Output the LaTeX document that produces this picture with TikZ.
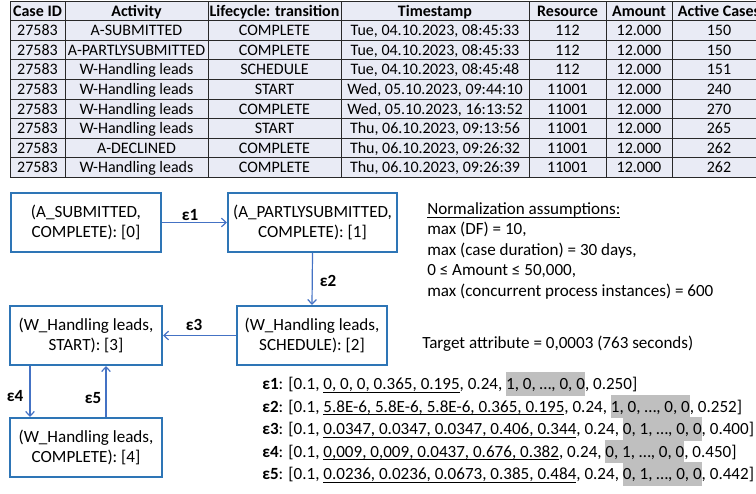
\documentclass[tikz,border=0pt]{standalone}
\usepackage{fontspec}
\setmainfont{Carlito}
\usetikzlibrary{arrows.meta,calc}

\definecolor{boxblue}{RGB}{46,117,182}
\definecolor{arrowblue}{RGB}{68,114,196}
\definecolor{cellfill}{RGB}{233,235,245}
\definecolor{hlgray}{RGB}{191,191,191}
\definecolor{gridgray}{RGB}{40,40,40}

% underlined and highlighted pieces of text
\newcommand\ulw[1]{\setbox0\hbox{#1}\rlap{\rule[-2.2pt]{\wd0}{0.6pt}}\box0}
\newcommand\hlw[1]{\setbox0\hbox{#1}\rlap{\color{hlgray}\rule[-4.8pt]{\wd0}{17.6pt}}\box0}

% geometry of the event table
\def\rowh{19.6}
\def\tabtop{1}

% one row of the event table: row index, then the seven cells
\newcommand\tabrow[8]{%
  \pgfmathsetmacro\ry{\tabtop+\rowh*(#1+0.5)+5.2}%
  \node[cell] (r#1c1) at (37.5,\ry) {#2};
  \node[cell] (r#1c2) at (136.5,\ry) {#3};
  \node[cell] (r#1c3) at (274.5,\ry) {#4};
  \node[cell] (r#1c4) at (435,\ry) {#5};
  \node[cell] (r#1c5) at (567.5,\ry) {#6};
  \node[cell] (r#1c6) at (639,\ry) {#7};
  \node[cell] (r#1c7) at (719,\ry) {#8};
}

\begin{document}
\begin{tikzpicture}[x=0.75pt,y=-0.75pt,
  cell/.style={anchor=base,inner sep=0pt,font=\fontsize{12}{14}\selectfont},
  gridline/.style={draw=gridgray,line width=0.6pt},
  procbox/.style={draw=boxblue,line width=1.5pt,align=center,inner sep=0pt,
    font=\fontsize{12.8}{15}\selectfont,minimum height=59*0.75pt},
  arr/.style={draw=arrowblue,line width=0.9pt,-{Straight Barb[length=3.5pt,width=6.5pt]}},
  elabel/.style={font=\bfseries\fontsize{12.8}{15}\selectfont,inner sep=0pt},
  plain/.style={anchor=base west,inner sep=0pt,font=\fontsize{12.8}{15}\selectfont}]
\useasboundingbox (0,0) rectangle (756,493);

% ---- event table ----
\pgfmathsetmacro\tabbot{\tabtop+9*\rowh}
\fill[cellfill] (10,\tabtop) rectangle (775,\tabbot);
\foreach \i in {0,...,9}
  \draw[gridline] (10,{\tabtop+\rowh*\i}) -- (775,{\tabtop+\rowh*\i});
\foreach \xx in {10,65,208,341,529,606,672,775}
  \draw[gridline] (\xx,\tabtop) -- (\xx,\tabbot);

\tabrow{0}{\textbf{Case ID}}{\textbf{Activity}}{\textbf{Lifecycle: transition}}{\textbf{Timestamp}}{\textbf{Resource}}{\textbf{Amount}}{\textbf{Active Cases}}
\tabrow{1}{27583}{A-SUBMITTED}{COMPLETE}{Tue, 04.10.2023, 08:45:33}{112}{12.000}{150}
\tabrow{2}{27583}{A-PARTLYSUBMITTED}{COMPLETE}{Tue, 04.10.2023, 08:45:33}{112}{12.000}{150}
\tabrow{3}{27583}{W-Handling leads}{SCHEDULE}{Tue, 04.10.2023, 08:45:48}{112}{12.000}{151}
\tabrow{4}{27583}{W-Handling leads}{START}{Wed, 05.10.2023, 09:44:10}{11001}{12.000}{240}
\tabrow{5}{27583}{W-Handling leads}{COMPLETE}{Wed, 05.10.2023, 16:13:52}{11001}{12.000}{270}
\tabrow{6}{27583}{W-Handling leads}{START}{Thu, 06.10.2023, 09:13:56}{11001}{12.000}{265}
\tabrow{7}{27583}{A-DECLINED}{COMPLETE}{Thu, 06.10.2023, 09:26:32}{11001}{12.000}{262}
\tabrow{8}{27583}{W-Handling leads}{COMPLETE}{Thu, 06.10.2023, 09:26:39}{11001}{12.000}{262}

% ---- directly-follows graph ----
\node[procbox,minimum width=150*0.75pt] (b0) at (86,222.5) {(A\_SUBMITTED,\\COMPLETE): [0]};
\node[procbox,minimum width=169*0.75pt] (b1) at (312.5,222.5) {(A\_PARTLYSUBMITTED,\\COMPLETE): [1]};
\node[procbox,minimum width=150*0.75pt] (b2) at (312,335.5) {(W\_Handling leads,\\SCHEDULE): [2]};
\node[procbox,minimum width=152*0.75pt] (b3) at (86,335.5) {(W\_Handling leads,\\START): [3]};
\node[procbox,minimum width=152*0.75pt] (b4) at (86,447.5) {(W\_Handling leads,\\COMPLETE): [4]};

\draw[arr] (b0.east) -- (b1.west);
\draw[arr] (b1.south) -- (b2.north);
\draw[arr] (b2.west) -- (b3.east);
\draw[arr] ($(b3.south west)+(21,0)$) -- ($(b4.north west)+(21,0)$);
\draw[arr] ($(b4.north west)+(97,0)$) -- ($(b3.south west)+(97,0)$);

\node[elabel] (l1) at (190,215) {ε1};
\node[elabel] (l2) at (328,281) {ε2};
\node[elabel] (l3) at (194,325) {ε3};
\node[elabel] (l4) at (15,396) {ε4};
\node[elabel] (l5) at (93,398) {ε5};

% ---- normalization notes ----
\node[plain] (n0) at (427,214.5) {\ulw{Normalization assumptions:}};
\node[plain] (n1) at (427,234.5) {max (DF) = 10,};
\node[plain] (n2) at (427,255) {max (case duration) = 30 days,};
\node[plain] (n3) at (427,275.5) {0 ≤ Amount ≤ 50,000,};
\node[plain] (n4) at (427,296) {max (concurrent process instances) = 600};
\node[plain] (tg) at (422,348.5) {Target attribute = 0,0003 (763 seconds)};

% ---- encoded edge vectors ----
\node[plain] (v1) at (262,389.5) {\textbf{ε1}: [0.1, \ulw{0, 0, 0, 0.365, 0.195}, 0.24, \hlw{1, 0, …, 0, 0}, 0.250]};
\node[plain] (v2) at (262,412) {\textbf{ε2}: [0.1, \ulw{5.8E-6, 5.8E-6, 5.8E-6, 0.365, 0.195}, 0.24, \hlw{1, 0, …, 0, 0}, 0.252]};
\node[plain] (v3) at (262,434.5) {\textbf{ε3}: [0.1, \ulw{0.0347, 0.0347, 0.0347, 0.406, 0.344}, 0.24, \hlw{0, 1, …, 0, 0}, 0.400]};
\node[plain] (v4) at (262,457) {\textbf{ε4}: [0.1, \ulw{0,009, 0,009, 0.0437, 0.676, 0.382}, 0.24, \hlw{0, 1, …, 0, 0}, 0.450]};
\node[plain] (v5) at (262,479.5) {\textbf{ε5}: [0.1, \ulw{0.0236, 0.0236, 0.0673, 0.385, 0.484}, 0.24, \hlw{0, 1, …, 0, 0}, 0.442]};
\end{tikzpicture}
\end{document}
